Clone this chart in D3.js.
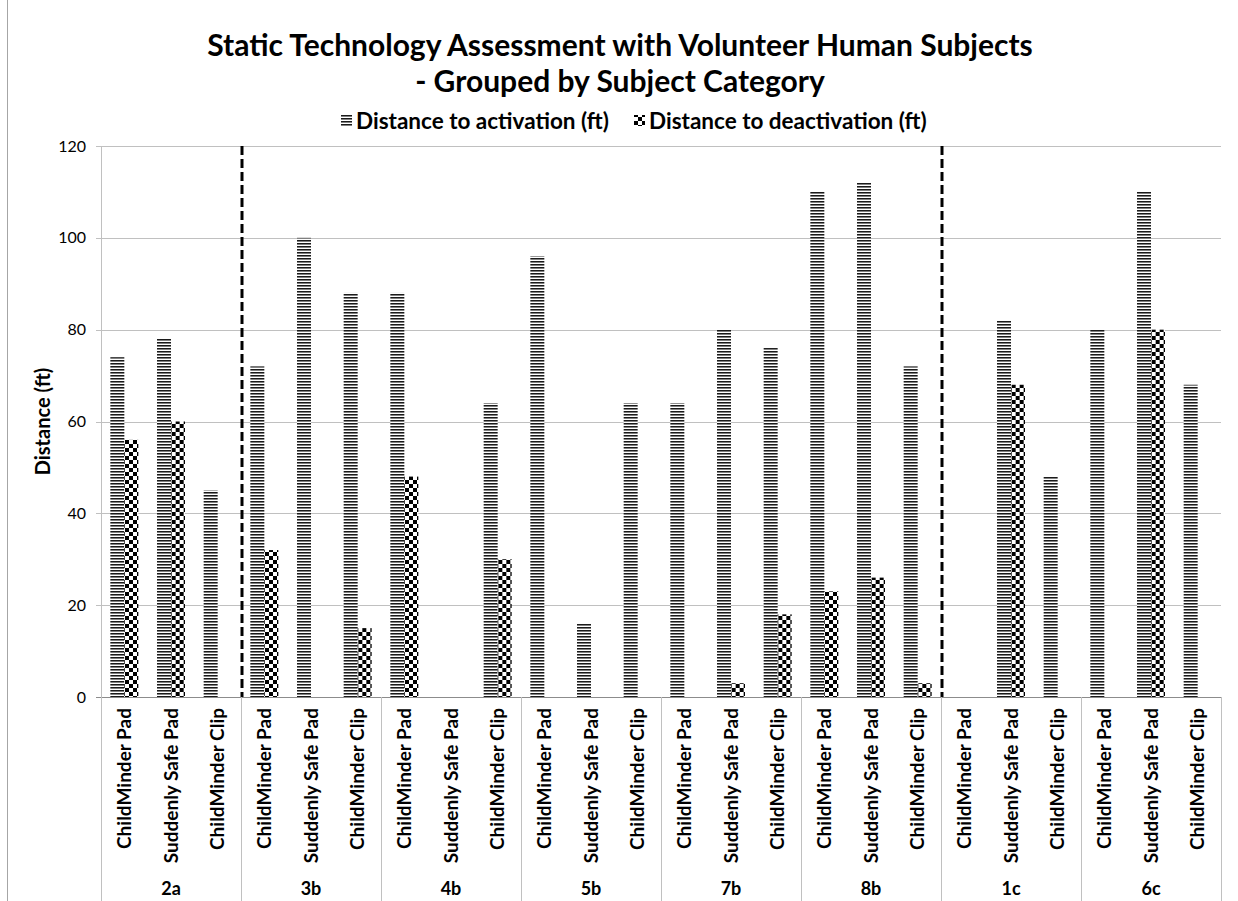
<!DOCTYPE html>
<html>
<head>
<meta charset="utf-8">
<script src="https://cdn.jsdelivr.net/npm/d3@7"></script>
<style>
  body { margin: 0; background: #fff; }
  svg { display: block; font-family: Lato, "Open Sans", sans-serif; }
</style>
</head>
<body>
<div id="chart"></div>
<script>
// subject groups and the three devices tested within each
const groups = ['2a', '3b', '4b', '5b', '7b', '8b', '1c', '6c'];
const devices = ['ChildMinder Pad', 'Suddenly Safe Pad', 'ChildMinder Clip'];
const seriesNames = ['Distance to activation (ft)', 'Distance to deactivation (ft)'];

// values read per group, in device order
const activation = [
   74, 78, 45,
   72, 100, 88,
   88, 0, 64,
   96, 16, 64,
   64, 80, 76,
   110, 112, 72,
   0, 82, 48,
   80, 110, 68,
];
const deactivation = [
   56, 60, 0,
   32, 0, 15,
   48, 0, 30,
   0, 0, 0,
   0, 3, 18,
   23, 26, 3,
   0, 68, 0,
   0, 80, 0,
];
const yTicks = [0, 20, 40, 60, 80, 100, 120];
// dashed separators go before these groups
const dividers = ['3b', '1c'];

const width = 1238, height = 901;
const plot = { left: 101, right: 1221, top: 146, bottom: 697 };

const rows = [];
groups.forEach((g, gi) => {
   devices.forEach((d, di) => {
      const i = gi * devices.length + di;
      rows.push({ key: i, group: g, device: d, values: [activation[i], deactivation[i]] });
   });
});

const svg = d3.select('#chart').append('svg')
   .attr('width', width).attr('height', height);

// fill patterns: striped for activation, checker for deactivation
const defs = svg.append('defs');
const stripe = defs.append('pattern').attr('id', 'stripe')
   .attr('patternUnits', 'userSpaceOnUse').attr('width', 6).attr('height', 3);
stripe.append('rect').attr('width', 6).attr('height', 3).attr('fill', '#fff');
stripe.append('rect').attr('y', 0).attr('width', 6).attr('height', 1).attr('fill', '#1a1a1a');
stripe.append('rect').attr('y', 1).attr('width', 6).attr('height', 1).attr('fill', '#808080');

const checker = defs.append('pattern').attr('id', 'checker')
   .attr('patternUnits', 'userSpaceOnUse').attr('width', 8).attr('height', 8);
checker.append('rect').attr('width', 8).attr('height', 8).attr('fill', '#fff');
checker.append('rect').attr('width', 4).attr('height', 4).attr('fill', '#000');
checker.append('rect').attr('x', 4).attr('y', 4).attr('width', 4).attr('height', 4).attr('fill', '#000');
const fills = ['url(#stripe)', 'url(#checker)'];

const x = d3.scaleBand().domain(rows.map(r => r.key)).range([plot.left, plot.right]);
const xInner = d3.scaleBand().domain([0, 1]).range([0, x.bandwidth()])
   .paddingInner(0).paddingOuter(0.667);
const y = d3.scaleLinear().domain([0, 120]).range([plot.bottom, plot.top]);

// chart frame left edge
svg.append('line').attr('x1', 7.5).attr('x2', 7.5).attr('y1', 0).attr('y2', height)
   .attr('stroke', '#a6a6a6');

// gridlines + y axis
svg.append('g').selectAll('line').data(yTicks).join('line')
   .attr('x1', plot.left - 5).attr('x2', plot.right)
   .attr('y1', d => Math.round(y(d)) + 0.5).attr('y2', d => Math.round(y(d)) + 0.5)
   .attr('stroke', d => d === 0 ? '#8c8c8c' : '#c0c0c0').attr('stroke-width', 1);
svg.append('g').selectAll('text').data(yTicks).join('text')
   .attr('x', plot.left - 15).attr('y', d => y(d)).attr('dy', '0.35em')
   .attr('text-anchor', 'end').attr('font-size', 16).attr('fill', '#000')
   .text(d => d);
svg.append('line').attr('x1', plot.left + 0.5).attr('x2', plot.left + 0.5)
   .attr('y1', plot.top).attr('y2', plot.bottom).attr('stroke', '#c0c0c0');

svg.append('text')
   .attr('transform', `translate(50,${(plot.top + plot.bottom) / 2}) rotate(-90)`)
   .attr('text-anchor', 'middle').attr('font-size', 20).attr('font-weight', 'bold')
   .text('Distance (ft)');

// bars
const barG = svg.append('g').selectAll('g').data(rows).join('g')
   .attr('transform', d => `translate(${x(d.key)},0)`);
barG.selectAll('rect').data(d => d.values.map((v, i) => ({ v, i }))).join('rect')
   .filter(d => d.v > 0)
   .attr('x', d => xInner(d.i)).attr('width', xInner.bandwidth())
   .attr('y', d => y(d.v)).attr('height', d => y(0) - y(d.v))
   .attr('fill', d => fills[d.i]);

// category axis: group separators, device and group labels
const groupStarts = groups.map((g, gi) => x(gi * devices.length));
svg.append('g').selectAll('line').data(groupStarts.concat([plot.right])).join('line')
   .attr('x1', d => Math.round(d) + 0.5).attr('x2', d => Math.round(d) + 0.5)
   .attr('y1', plot.bottom).attr('y2', height)
   .attr('stroke', '#c0c0c0');

svg.append('g').selectAll('text').data(rows).join('text')
   .attr('transform', d => `translate(${x(d.key) + x.bandwidth() / 2},${plot.bottom + 11}) rotate(-90)`)
   .attr('dy', '0.35em')
   .attr('text-anchor', 'end').attr('font-size', 19).attr('font-weight', 'bold')
   .text(d => d.device);

svg.append('g').selectAll('text').data(groups).join('text')
   .attr('x', (g, gi) => x(gi * devices.length) + x.bandwidth() * devices.length / 2)
   .attr('y', 895).attr('text-anchor', 'middle')
   .attr('font-size', 18).attr('font-weight', 'bold')
   .text(g => g);

// dashed subject-category dividers
svg.append('g').selectAll('line').data(dividers).join('line')
   .attr('x1', g => x(groups.indexOf(g) * devices.length) + 1)
   .attr('x2', g => x(groups.indexOf(g) * devices.length) + 1)
   .attr('y1', plot.top).attr('y2', plot.bottom)
   .attr('stroke', '#000').attr('stroke-width', 3).attr('stroke-dasharray', '9,4');

// title
const title = svg.append('text').attr('text-anchor', 'middle')
   .attr('font-size', 30).attr('font-weight', 'bold');
title.append('tspan').attr('x', 620).attr('y', 56)
   .text('Static Technology Assessment with Volunteer Human Subjects');
title.append('tspan').attr('x', 620).attr('y', 92)
   .text('- Grouped by Subject Category');

// legend
const legendX = [341, 634];
const legend = svg.append('g').selectAll('g').data(seriesNames).join('g')
   .attr('transform', (d, i) => `translate(${legendX[i]},121)`);
legend.append('rect').attr('x', 0).attr('y', -6).attr('width', 11).attr('height', 11)
   .attr('fill', (d, i) => fills[i]);
legend.append('text').attr('x', 15).attr('y', 0).attr('dy', '0.35em')
   .attr('font-size', 22.5).attr('font-weight', 'bold')
   .text(d => d);
</script>
</body>
</html>
